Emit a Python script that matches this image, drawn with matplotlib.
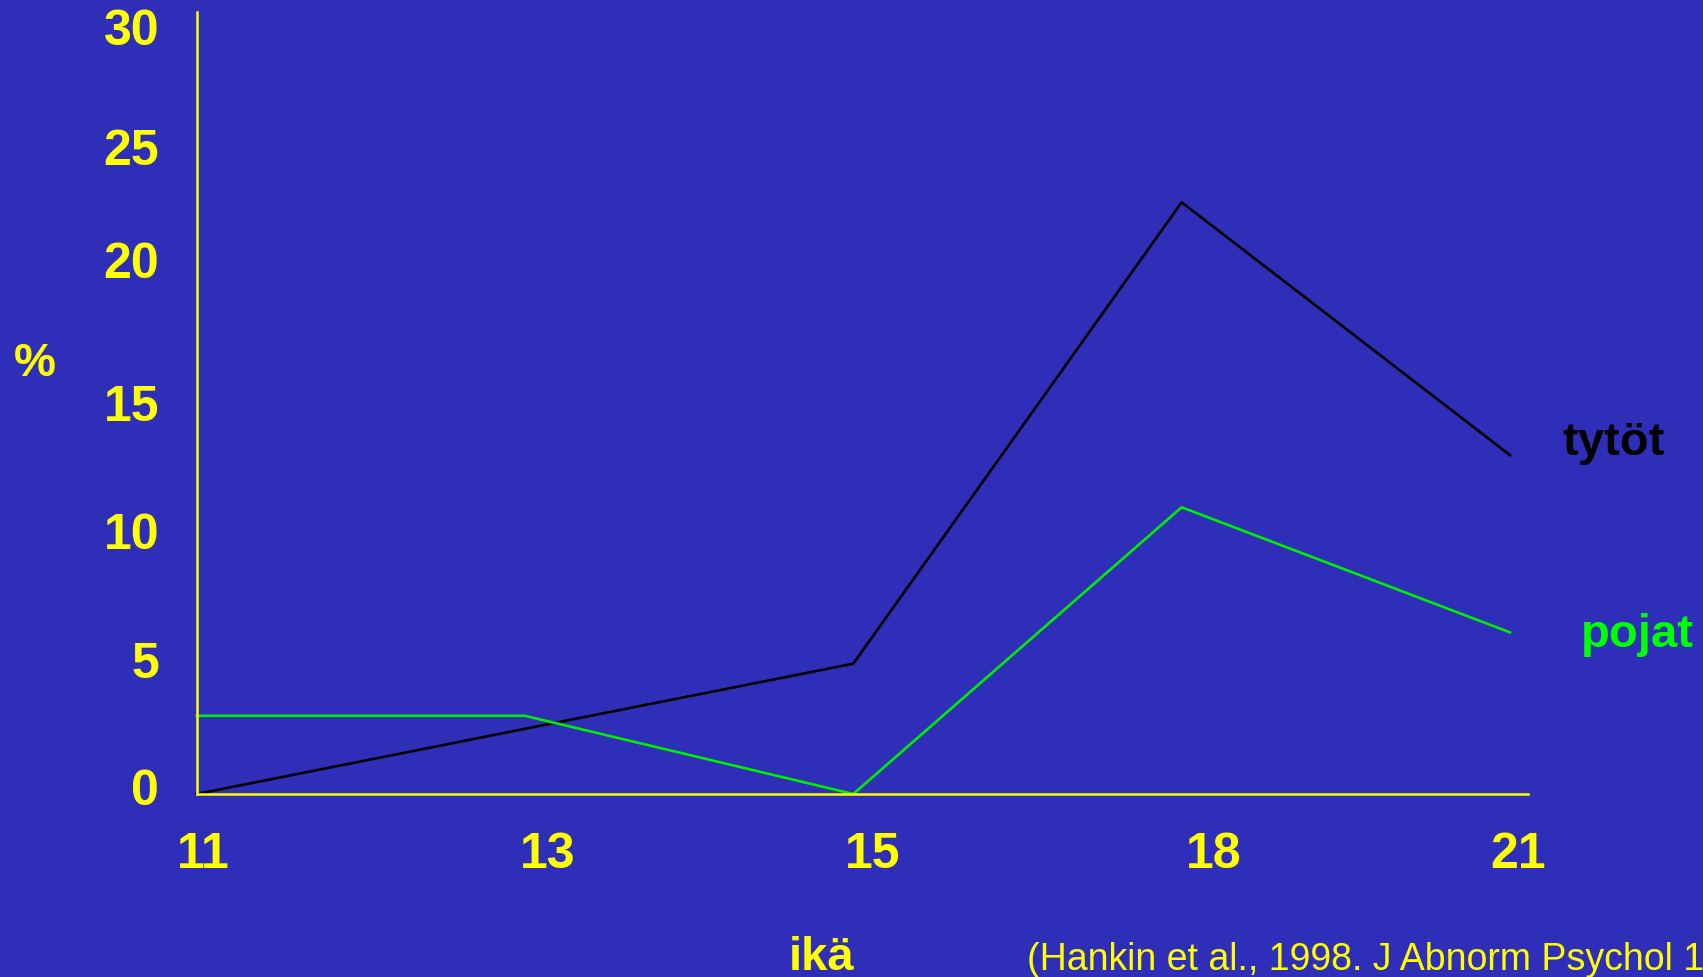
import matplotlib
matplotlib.use('Agg')
import matplotlib.pyplot as plt
from matplotlib.transforms import ScaledTranslation

# data
ages = ['11', '13', '15', '18', '21']
tytot = [0, 2.5, 5, 22.7, 13]
pojat = [3, 3, 0, 11, 6.2]
y_ticks = [0, 5, 10, 15, 20, 25, 30]

bg = '#2E2EB8'
yellow = '#FFFF00'
green = '#00EE00'

plt.rcParams['font.family'] = ['Liberation Sans', 'DejaVu Sans']

W, H = 1703, 978
fig = plt.figure(figsize=(W / 100, H / 100), dpi=100, facecolor=bg)
ax = fig.add_axes([196.6 / W, 1 - 795 / H, (1528 - 196.6) / W, (795 - 13) / H])
ax.set_facecolor(bg)

x = list(range(len(ages)))
ax.plot(x, tytot, color='black', lw=1.9, clip_on=False)
ax.plot(x, pojat, color=green, lw=1.9, clip_on=False)

ax.set_xlim(0, 4 + 18 / 328.35)
ax.set_ylim(0, 30)

for side in ['top', 'right']:
    ax.spines[side].set_visible(False)
for side in ['left', 'bottom']:
    ax.spines[side].set_color(yellow)
    ax.spines[side].set_linewidth(1.8)

ax.set_xticks(x)
ax.set_xticklabels(ages)
ax.set_yticks(y_ticks)
ax.set_yticklabels([str(v) for v in y_ticks])
ax.tick_params(axis='both', length=0, colors=yellow, labelsize=36)
ax.tick_params(axis='y', pad=27)
ax.tick_params(axis='x', pad=27)

# the slide's labels sit a little off the even grid
x_shift = [7, 23, 19, 32, 8]
y_shift = [8, 5, 3, 1, 14, -4, -14]
for lab, dx in zip(ax.get_xticklabels(), x_shift):
    lab.set_fontweight('bold')
    lab.set_transform(lab.get_transform() + ScaledTranslation(dx / 100, 0, fig.dpi_scale_trans))
for lab, dy in zip(ax.get_yticklabels(), y_shift):
    lab.set_fontweight('bold')
    lab.set_transform(lab.get_transform() + ScaledTranslation(0, dy / 100, fig.dpi_scale_trans))

# series labels on the right
fig.text(1562 / W, 1 - 443 / H, 'tytöt', color='black', fontsize=34,
         fontweight='bold', ha='left', va='center')
fig.text(1581 / W, 1 - 635 / H, 'pojat', color='#00FF00', fontsize=34,
         fontweight='bold', ha='left', va='center')

# axis titles
fig.text(35 / W, 1 - 364 / H, '%', color=yellow, fontsize=34,
         fontweight='bold', ha='center', va='center')
fig.text(822 / W, 1 - 970 / H, 'ikä', color=yellow, fontsize=34,
         fontweight='bold', ha='center', va='baseline')
fig.text(1027 / W, 1 - 970 / H, '(Hankin et al., 1998. J Abnorm Psychol 107, 128-140)',
         color=yellow, fontsize=27, ha='left', va='baseline')

fig.savefig('out.png', dpi=100, facecolor=bg)
